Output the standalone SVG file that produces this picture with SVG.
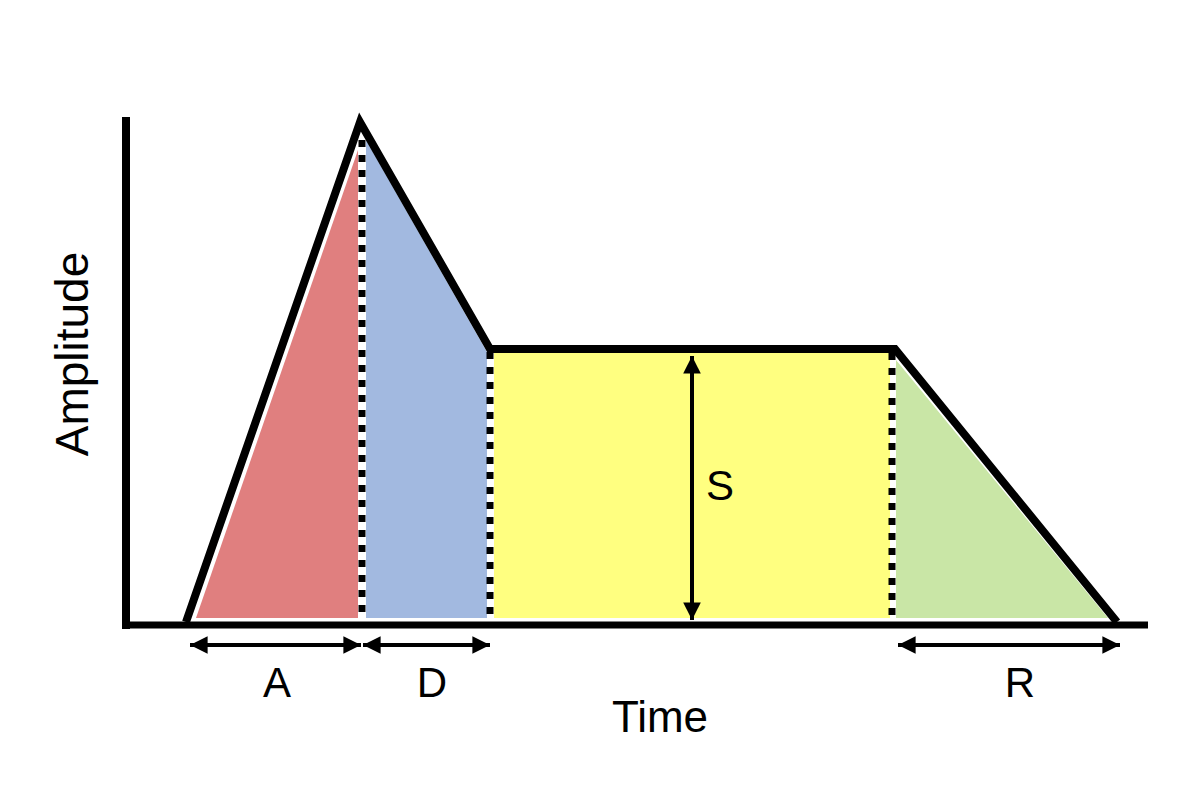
<svg xmlns="http://www.w3.org/2000/svg" width="1200" height="800" viewBox="0 0 1200 800">
<style>
.lbl{font-family:"Liberation Sans","DejaVu Sans",sans-serif;fill:#000;text-anchor:middle}
.dash{stroke:#000;stroke-width:7;stroke-dasharray:7 8;fill:none}
.arr{stroke:#000;stroke-width:4;fill:none}
</style>
<defs>
<marker id="ah" viewBox="0 0 10 10" refX="10" refY="5" markerWidth="4.4" markerHeight="4.4" markerUnits="strokeWidth" orient="auto-start-reverse">
<path d="M0,0 L10,5 L0,10 Z" fill="#000"/>
</marker>
</defs>
<rect width="1200" height="800" fill="#fff"/>
<g id="fills">
<polygon id="attack" points="196,618 358,150 358,618" fill="#E07F7F"/>
<polygon id="decay" points="366,140 487,352 487,618 366,618" fill="#A2B9E0"/>
<rect id="sustain" x="494" y="352" width="396" height="266" fill="#FFFF80"/>
<polygon id="release" points="896,360 1108,618 896,618" fill="#C9E6A6"/>
</g>
<g id="dividers">
<line class="dash" x1="362" y1="140" x2="362" y2="618"/>
<line class="dash" x1="490" y1="352" x2="490" y2="618"/>
<line class="dash" x1="892" y1="353" x2="892" y2="618"/>
</g>
<g id="axes">
<line x1="126" y1="117" x2="126" y2="629" stroke="#000" stroke-width="8"/>
<line x1="122" y1="625" x2="1148" y2="625" stroke="#000" stroke-width="7"/>
</g>
<g id="envelope">
<polyline points="186,622 360,122 490,349 895,349 1117,622" fill="none" stroke="#000" stroke-width="8" stroke-linejoin="miter"/>
</g>
<g id="connectors">
<line class="arr" x1="190" y1="645" x2="361" y2="645" marker-start="url(#ah)" marker-end="url(#ah)"/>
<line class="arr" x1="363" y1="645" x2="490" y2="645" marker-start="url(#ah)" marker-end="url(#ah)"/>
<line class="arr" x1="898" y1="645" x2="1120" y2="645" marker-start="url(#ah)" marker-end="url(#ah)"/>
<line class="arr" x1="692" y1="356" x2="692" y2="620" marker-start="url(#ah)" marker-end="url(#ah)"/>
</g>
<g id="labels">
<text class="lbl" x="277" y="697" font-size="42">A</text>
<text class="lbl" x="432" y="697" font-size="42">D</text>
<text class="lbl" x="1020" y="697" font-size="42">R</text>
<text class="lbl" x="720" y="500" font-size="42">S</text>
<text class="lbl" x="660" y="732" font-size="44">Time</text>
<text class="lbl" x="0" y="0" font-size="46" transform="translate(88,354) rotate(-90)">Amplitude</text>
</g>
</svg>
